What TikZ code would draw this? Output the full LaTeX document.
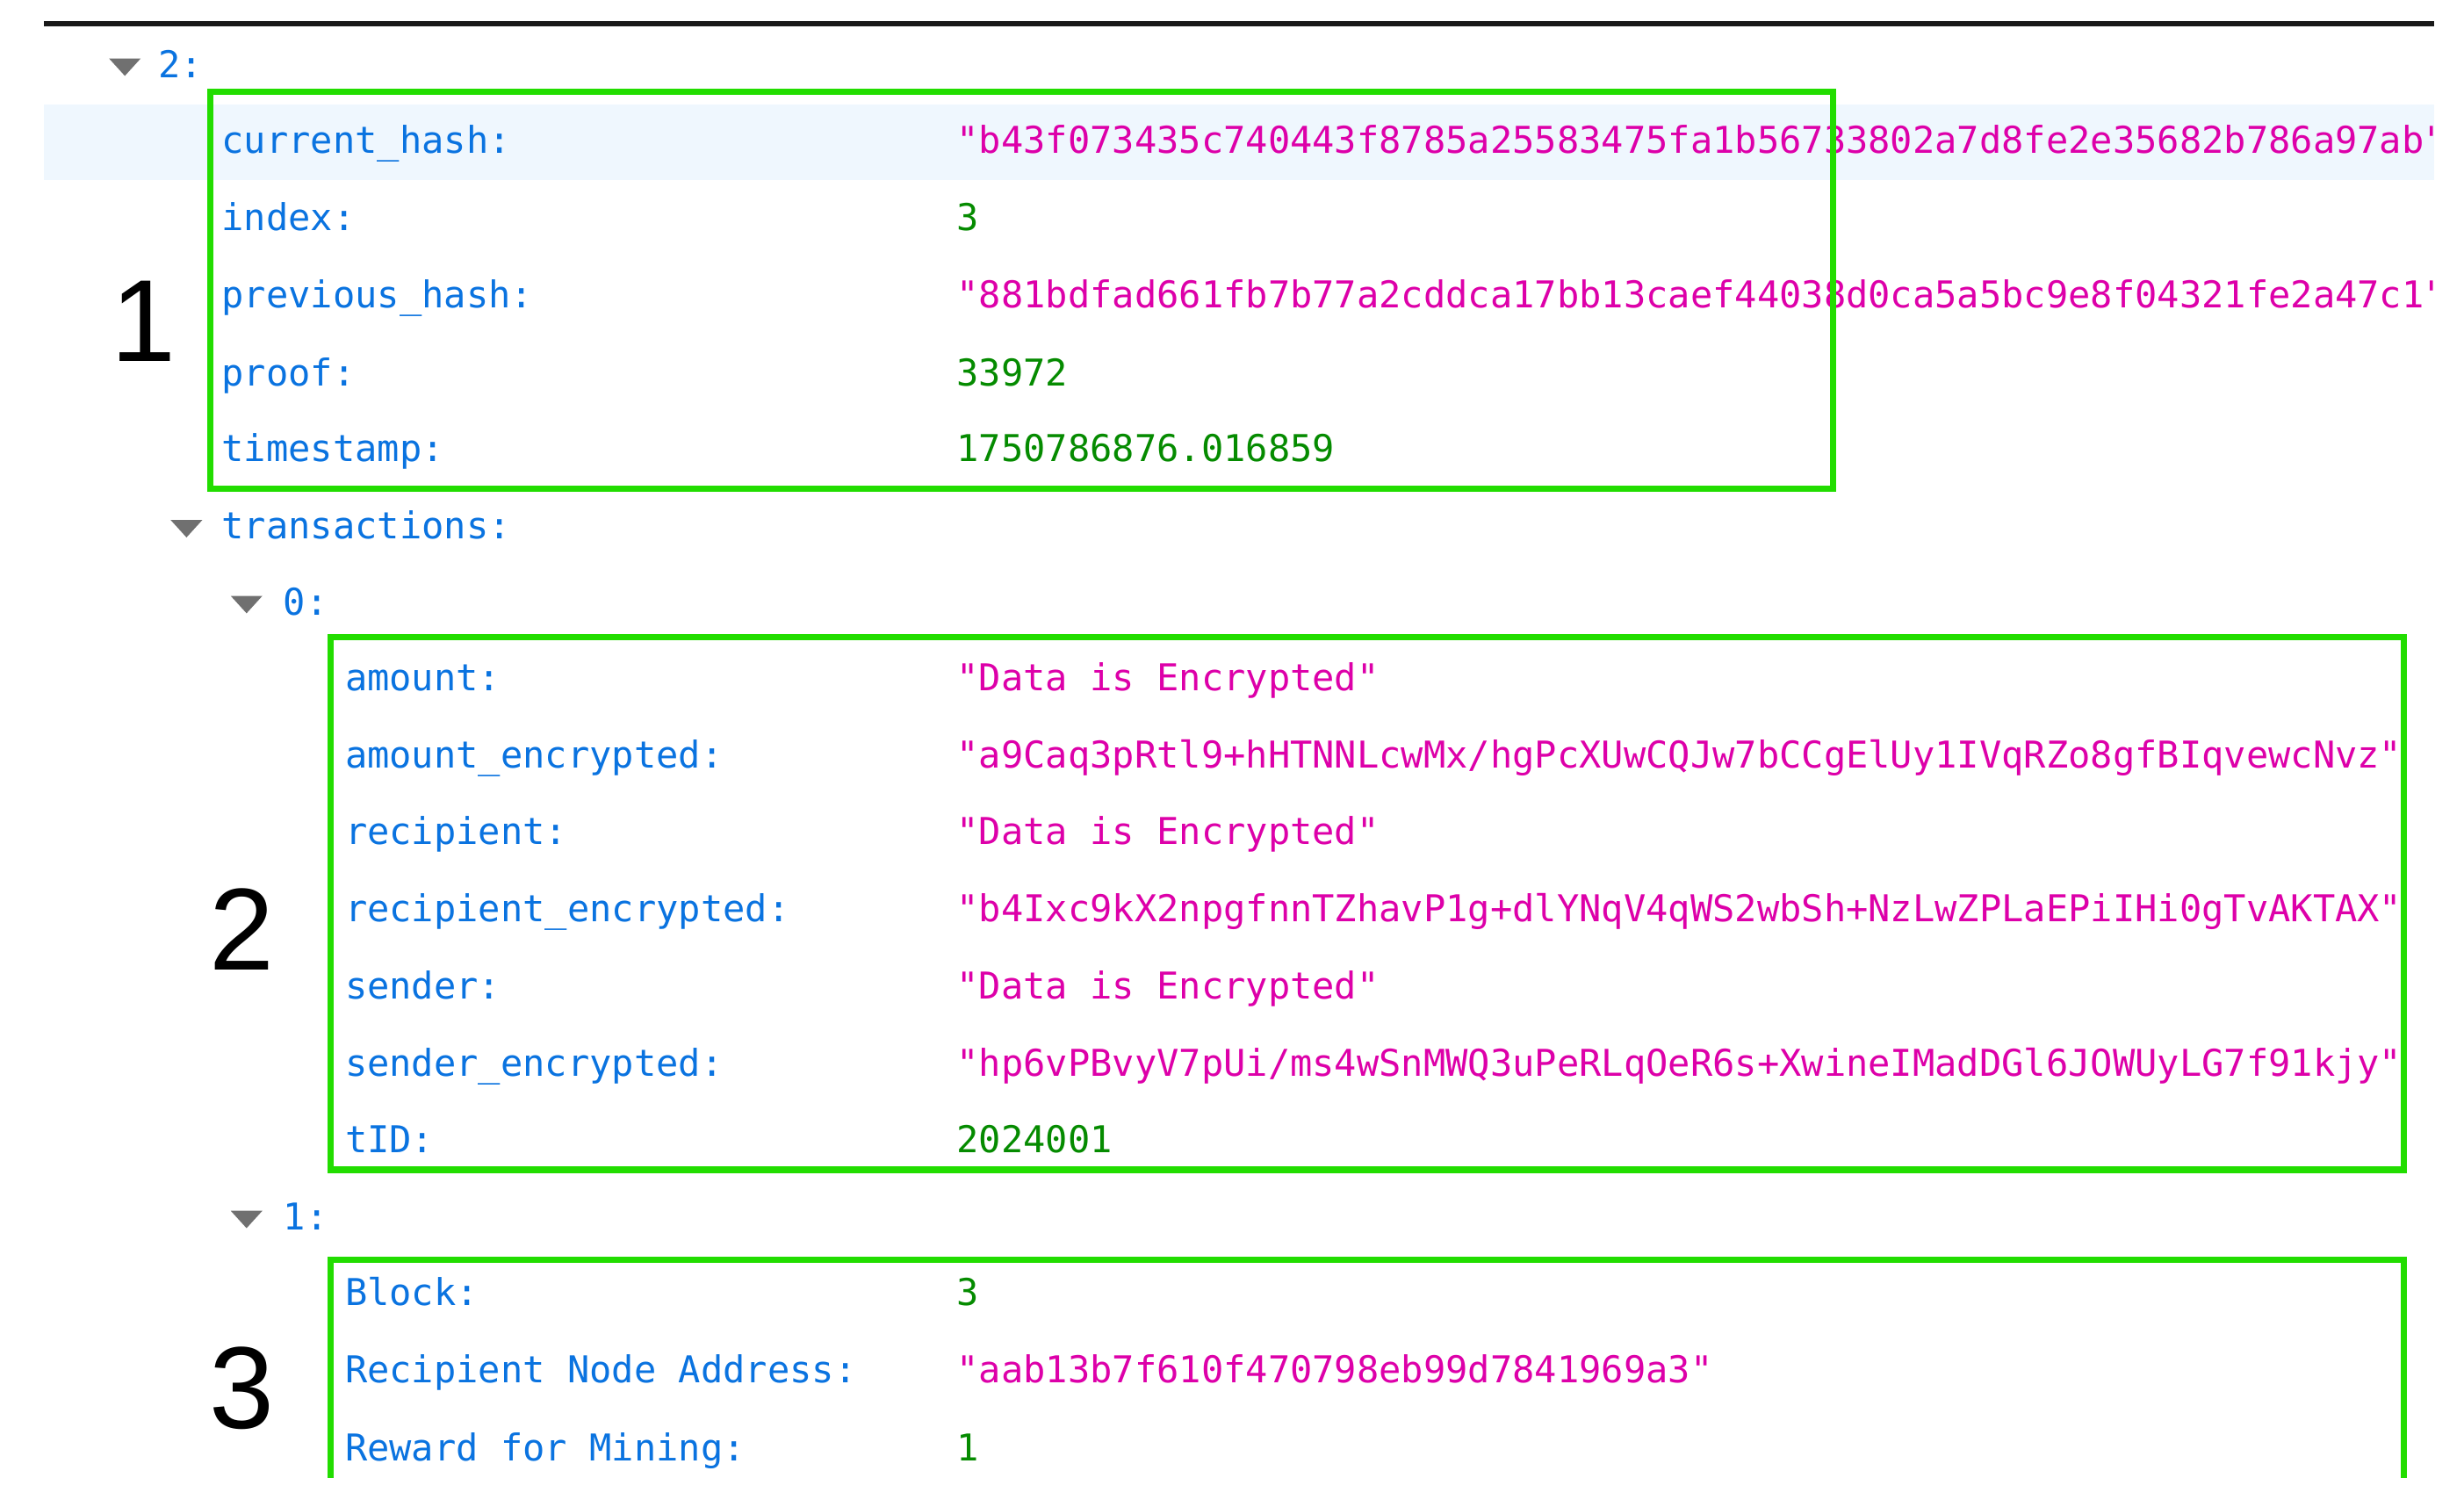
\documentclass[tikz,border=0pt]{standalone}
\usepackage{fontspec}
\setmonofont{DejaVu Sans Mono}
\setsansfont{Liberation Sans}
\begin{document}
\begin{tikzpicture}[x=0.02cm,y=-0.02cm,
  keyc/.style={anchor=base west,inner sep=0,text=keyblue,font=\ttfamily\fontsize{13.3}{14}\selectfont},
  strc/.style={anchor=base west,inner sep=0,text=strmag,font=\ttfamily\fontsize{13.3}{14}\selectfont},
  numc/.style={anchor=base west,inner sep=0,text=numgreen,font=\ttfamily\fontsize{13.3}{14}\selectfont},
  bignum/.style={inner sep=0,font=\sffamily\fontsize{42}{44}\selectfont},
  gbox/.style={draw=boxgreen,line width=0.08cm},
  tri/.style={fill=trigray,draw=none}]
\definecolor{keyblue}{HTML}{0A73E0}
\definecolor{strmag}{HTML}{DD00A9}
\definecolor{numgreen}{HTML}{058B00}
\definecolor{boxgreen}{HTML}{22DD00}
\definecolor{trigray}{HTML}{707070}
\definecolor{rowhl}{HTML}{EFF7FE}
\useasboundingbox (0,0) rectangle (1559,953);
\fill[white] (0,0) rectangle (1559,953);
\draw[line width=0.06cm,black!90] (28,15) -- (1540,15);
\fill[rowhl] (28,66) rectangle (1540,114);
\foreach \tx/\ty in {79/42,118/334,156/382,156/771}{
  \fill[tri] (\tx-10,\ty-5) -- (\tx+10,\ty-5) -- (\tx,\ty+6) -- cycle;}
\node[keyc] (k2) at (100,49) {2:};
\node[keyc] (ktr) at (140,341) {transactions:};
\node[keyc] (k0) at (179,389) {0:};
\node[keyc] (k1) at (179,778) {1:};
\begin{scope}
\clip (28,0) rectangle (1540,953);
\node[keyc] (a1) at (140,97) {current\_hash:};
\node[strc] (v1) at (605,97) {"b43f073435c740443f8785a25583475fa1b56733802a7d8fe2e35682b786a97ab"};
\node[keyc] (a2) at (140,146) {index:};
\node[numc] (v2) at (605,146) {3};
\node[keyc] (a3) at (140,195) {previous\_hash:};
\node[strc] (v3) at (605,195) {"881bdfad661fb7b77a2cddca17bb13caef44038d0ca5a5bc9e8f04321fe2a47c1"};
\node[keyc] (a4) at (140,244) {proof:};
\node[numc] (v4) at (605,244) {33972};
\node[keyc] (a5) at (140,292) {timestamp:};
\node[numc] (v5) at (605,292) {1750786876.016859};
\node[keyc] (b1) at (218,437) {amount:};
\node[strc] (w1) at (605,437) {"Data is Encrypted"};
\node[keyc] (b2) at (218,486) {amount\_encrypted:};
\node[strc] (w2) at (605,486) {"a9Caq3pRtl9+hHTNNLcwMx/hgPcXUwCQJw7bCCgElUy1IVqRZo8gfBIqvewcNvz"};
\node[keyc] (b3) at (218,534) {recipient:};
\node[strc] (w3) at (605,534) {"Data is Encrypted"};
\node[keyc] (b4) at (218,583) {recipient\_encrypted:};
\node[strc] (w4) at (605,583) {"b4Ixc9kX2npgfnnTZhavP1g+dlYNqV4qWS2wbSh+NzLwZPLaEPiIHi0gTvAKTAX"};
\node[keyc] (b5) at (218,632) {sender:};
\node[strc] (w5) at (605,632) {"Data is Encrypted"};
\node[keyc] (b6) at (218,681) {sender\_encrypted:};
\node[strc] (w6) at (605,681) {"hp6vPBvyV7pUi/ms4wSnMWQ3uPeRLqOeR6s+XwineIMadDGl6JOWUyLG7f91kjy"};
\node[keyc] (b7) at (218,729) {tID:};
\node[numc] (w7) at (605,729) {2024001};
\node[keyc] (c1) at (218,826) {Block:};
\node[numc] (x1) at (605,826) {3};
\node[keyc] (c2) at (218,875) {Recipient Node Address:};
\node[strc] (x2) at (605,875) {"aab13b7f610f470798eb99d7841969a3"};
\node[keyc] (c3) at (218,924) {Reward for Mining:};
\node[numc] (x3) at (605,924) {1};
\end{scope}
\draw[gbox] (133,58) rectangle (1160,309);
\draw[gbox] (209,403) rectangle (1521,740);
\draw[gbox] (209,935) -- (209,797) -- (1521,797) -- (1521,935);
\node[bignum] (n1) at (91,203) {1};
\node[bignum] (n2) at (153,588) {2};
\node[bignum] (n3) at (153,878) {3};
\end{tikzpicture}
\end{document}
